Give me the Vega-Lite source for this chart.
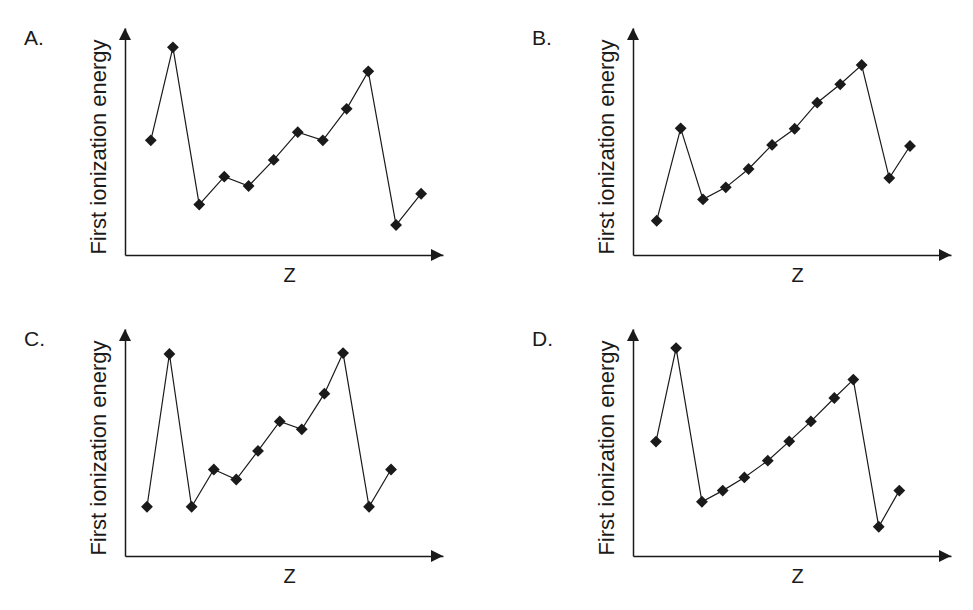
{
  "$schema": "https://vega.github.io/schema/vega-lite/v6.json",
  "background": "white",
  "autosize": {"type": "pad"},
  "padding": {"left": 24, "top": 28, "right": 5, "bottom": 5},
  "datasets": {
    "ie": [
      {"panel": "A", "z": 1.05, "energy": 50.5},
      {"panel": "A", "z": 1.95, "energy": 91.5},
      {"panel": "A", "z": 3.02, "energy": 22.2},
      {"panel": "A", "z": 4.04, "energy": 34.5},
      {"panel": "A", "z": 5.03, "energy": 30.4},
      {"panel": "A", "z": 6.05, "energy": 41.9},
      {"panel": "A", "z": 7.03, "energy": 54.1},
      {"panel": "A", "z": 8.05, "energy": 50.5},
      {"panel": "A", "z": 9.02, "energy": 64.4},
      {"panel": "A", "z": 9.9, "energy": 80.9},
      {"panel": "A", "z": 11.03, "energy": 13.2},
      {"panel": "A", "z": 12.05, "energy": 27.0},

      {"panel": "B", "z": 1.03, "energy": 15.1},
      {"panel": "B", "z": 2.07, "energy": 55.8},
      {"panel": "B", "z": 3.04, "energy": 24.5},
      {"panel": "B", "z": 4.03, "energy": 29.8},
      {"panel": "B", "z": 5.02, "energy": 37.9},
      {"panel": "B", "z": 6.04, "energy": 48.5},
      {"panel": "B", "z": 7.02, "energy": 55.6},
      {"panel": "B", "z": 8.0, "energy": 67.1},
      {"panel": "B", "z": 9.0, "energy": 75.2},
      {"panel": "B", "z": 9.93, "energy": 83.7},
      {"panel": "B", "z": 11.13, "energy": 33.9},
      {"panel": "B", "z": 12.03, "energy": 48.0},

      {"panel": "C", "z": 0.99, "energy": 21.7},
      {"panel": "C", "z": 2.0, "energy": 89.0},
      {"panel": "C", "z": 3.0, "energy": 21.7},
      {"panel": "C", "z": 4.0, "energy": 38.1},
      {"panel": "C", "z": 5.01, "energy": 33.7},
      {"panel": "C", "z": 5.99, "energy": 46.3},
      {"panel": "C", "z": 6.97, "energy": 59.3},
      {"panel": "C", "z": 7.96, "energy": 55.8},
      {"panel": "C", "z": 8.98, "energy": 71.5},
      {"panel": "C", "z": 9.82, "energy": 89.4},
      {"panel": "C", "z": 10.99, "energy": 21.7},
      {"panel": "C", "z": 11.98, "energy": 38.1},

      {"panel": "D", "z": 1.04, "energy": 50.4},
      {"panel": "D", "z": 1.95, "energy": 91.6},
      {"panel": "D", "z": 3.12, "energy": 23.9},
      {"panel": "D", "z": 4.06, "energy": 28.8},
      {"panel": "D", "z": 5.04, "energy": 34.6},
      {"panel": "D", "z": 6.1, "energy": 42.0},
      {"panel": "D", "z": 7.07, "energy": 50.5},
      {"panel": "D", "z": 8.05, "energy": 59.3},
      {"panel": "D", "z": 9.11, "energy": 69.6},
      {"panel": "D", "z": 9.97, "energy": 77.7},
      {"panel": "D", "z": 11.12, "energy": 12.9},
      {"panel": "D", "z": 12.05, "energy": 28.8}
    ]
  },
  "columns": 2,
  "spacing": {"row": 74, "column": 190},
  "bounds": "flush",
  "concat": [
    {
      "width": 318,
      "height": 227,
      "title": {"text": "A."},
      "encoding": {
        "x": {"field": "z", "type": "quantitative", "scale": {"domain": [0, 12.94], "nice": false, "zero": true}, "axis": {"title": "Z"}},
        "y": {"field": "energy", "type": "quantitative", "scale": {"domain": [0, 100], "nice": false}, "axis": {"title": "First ionization energy"}}
      },
      "layer": [
        {"data": {"name": "ie"}, "transform": [{"filter": "datum.panel === 'A'"}], "mark": {"type": "line", "color": "#1a1a1a", "strokeWidth": 1.2}},
        {"data": {"name": "ie"}, "transform": [{"filter": "datum.panel === 'A'"}], "mark": {"type": "point", "shape": "diamond", "filled": true, "size": 140, "color": "#1a1a1a", "opacity": 1}},
        {"data": {"values": [{"z": 0, "energy": 100}]}, "mark": {"type": "point", "shape": "M0,-1L1,1L-1,1Z", "filled": true, "size": 144, "color": "#1a1a1a", "opacity": 1, "yOffset": 6}},
        {"data": {"values": [{"z": 12.94, "energy": 0}]}, "mark": {"type": "point", "shape": "M-1,-1L1,0L-1,1Z", "filled": true, "size": 144, "color": "#1a1a1a", "opacity": 1, "xOffset": -6}}
      ]
    },
    {
      "width": 318,
      "height": 227,
      "title": {"text": "B."},
      "encoding": {
        "x": {"field": "z", "type": "quantitative", "scale": {"domain": [0, 13.81], "nice": false, "zero": true}, "axis": {"title": "Z"}},
        "y": {"field": "energy", "type": "quantitative", "scale": {"domain": [0, 100], "nice": false}, "axis": {"title": "First ionization energy"}}
      },
      "layer": [
        {"data": {"name": "ie"}, "transform": [{"filter": "datum.panel === 'B'"}], "mark": {"type": "line", "color": "#1a1a1a", "strokeWidth": 1.2}},
        {"data": {"name": "ie"}, "transform": [{"filter": "datum.panel === 'B'"}], "mark": {"type": "point", "shape": "diamond", "filled": true, "size": 140, "color": "#1a1a1a", "opacity": 1}},
        {"data": {"values": [{"z": 0, "energy": 100}]}, "mark": {"type": "point", "shape": "M0,-1L1,1L-1,1Z", "filled": true, "size": 144, "color": "#1a1a1a", "opacity": 1, "yOffset": 6}},
        {"data": {"values": [{"z": 13.81, "energy": 0}]}, "mark": {"type": "point", "shape": "M-1,-1L1,0L-1,1Z", "filled": true, "size": 144, "color": "#1a1a1a", "opacity": 1, "xOffset": -6}}
      ]
    },
    {
      "width": 318,
      "height": 227,
      "title": {"text": "C."},
      "encoding": {
        "x": {"field": "z", "type": "quantitative", "scale": {"domain": [0, 14.32], "nice": false, "zero": true}, "axis": {"title": "Z"}},
        "y": {"field": "energy", "type": "quantitative", "scale": {"domain": [0, 100], "nice": false}, "axis": {"title": "First ionization energy"}}
      },
      "layer": [
        {"data": {"name": "ie"}, "transform": [{"filter": "datum.panel === 'C'"}], "mark": {"type": "line", "color": "#1a1a1a", "strokeWidth": 1.2}},
        {"data": {"name": "ie"}, "transform": [{"filter": "datum.panel === 'C'"}], "mark": {"type": "point", "shape": "diamond", "filled": true, "size": 140, "color": "#1a1a1a", "opacity": 1}},
        {"data": {"values": [{"z": 0, "energy": 100}]}, "mark": {"type": "point", "shape": "M0,-1L1,1L-1,1Z", "filled": true, "size": 144, "color": "#1a1a1a", "opacity": 1, "yOffset": 6}},
        {"data": {"values": [{"z": 14.32, "energy": 0}]}, "mark": {"type": "point", "shape": "M-1,-1L1,0L-1,1Z", "filled": true, "size": 144, "color": "#1a1a1a", "opacity": 1, "xOffset": -6}}
      ]
    },
    {
      "width": 318,
      "height": 227,
      "title": {"text": "D."},
      "encoding": {
        "x": {"field": "z", "type": "quantitative", "scale": {"domain": [0, 14.39], "nice": false, "zero": true}, "axis": {"title": "Z"}},
        "y": {"field": "energy", "type": "quantitative", "scale": {"domain": [0, 100], "nice": false}, "axis": {"title": "First ionization energy"}}
      },
      "layer": [
        {"data": {"name": "ie"}, "transform": [{"filter": "datum.panel === 'D'"}], "mark": {"type": "line", "color": "#1a1a1a", "strokeWidth": 1.2}},
        {"data": {"name": "ie"}, "transform": [{"filter": "datum.panel === 'D'"}], "mark": {"type": "point", "shape": "diamond", "filled": true, "size": 140, "color": "#1a1a1a", "opacity": 1}},
        {"data": {"values": [{"z": 0, "energy": 100}]}, "mark": {"type": "point", "shape": "M0,-1L1,1L-1,1Z", "filled": true, "size": 144, "color": "#1a1a1a", "opacity": 1, "yOffset": 6}},
        {"data": {"values": [{"z": 14.39, "energy": 0}]}, "mark": {"type": "point", "shape": "M-1,-1L1,0L-1,1Z", "filled": true, "size": 144, "color": "#1a1a1a", "opacity": 1, "xOffset": -6}}
      ]
    }
  ],
  "config": {
    "view": {"stroke": null},
    "font": "Liberation Sans",
    "axis": {
      "labels": false,
      "ticks": false,
      "grid": false,
      "domainColor": "#1a1a1a",
      "domainWidth": 1.5,
      "titleColor": "#1a1a1a",
      "titleFontWeight": "normal",
      "minExtent": 0
    },
    "axisX": {"titleFontSize": 20, "titleX": 164, "titlePadding": 10},
    "axisY": {"titleFontSize": 22, "titleY": 118.5, "titlePadding": 15},
    "title": {
      "anchor": "start",
      "frame": "group",
      "fontSize": 21,
      "fontWeight": "normal",
      "color": "#1a1a1a",
      "baseline": "alphabetic",
      "offset": 0,
      "dx": -101,
      "dy": 25
    }
  }
}
